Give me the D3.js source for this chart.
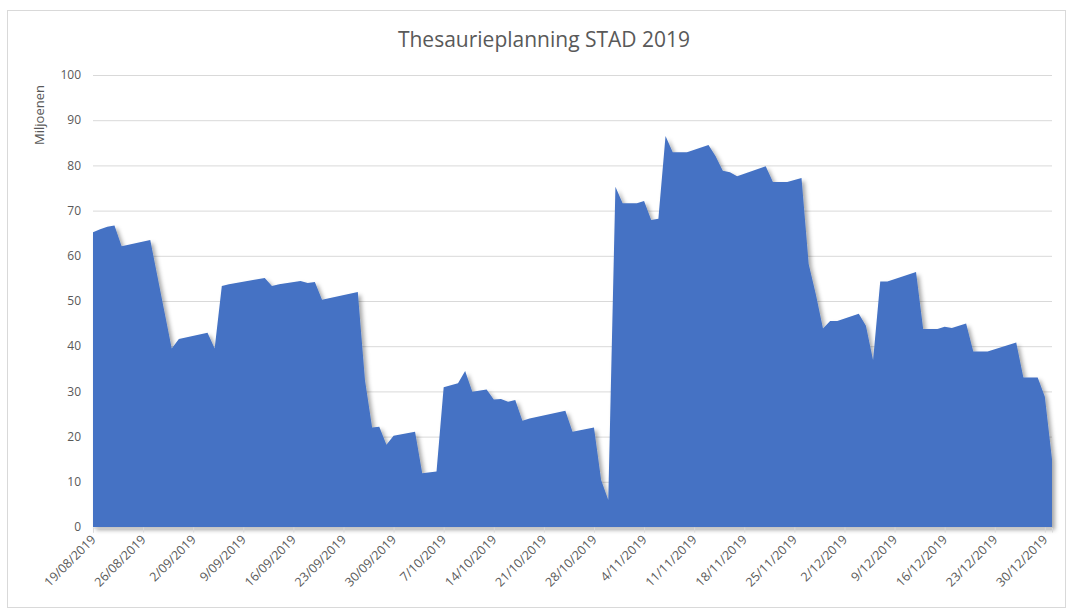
<!DOCTYPE html>
<html>
<head>
<meta charset="utf-8">
<script src="https://cdn.jsdelivr.net/npm/d3@7"></script>
<style>
  body { margin: 0; background: #fff; }
  text { font-family: "Open Sans", "Noto Sans", sans-serif; fill: #595959; }
</style>
</head>
<body>
<div id="chart"></div>
<script>
// data (vertex points of the area, in Miljoenen)
var dates = [
  "19/08/2019","20/08/2019","21/08/2019","22/08/2019","23/08/2019","27/08/2019","28/08/2019","30/08/2019",
  "31/08/2019","4/09/2019","5/09/2019","6/09/2019","7/09/2019","12/09/2019","13/09/2019","14/09/2019",
  "17/09/2019","18/09/2019","19/09/2019","20/09/2019","25/09/2019","26/09/2019","27/09/2019","28/09/2019",
  "29/09/2019","30/09/2019","3/10/2019","4/10/2019","6/10/2019","7/10/2019","9/10/2019","10/10/2019",
  "11/10/2019","13/10/2019","14/10/2019","15/10/2019","16/10/2019","17/10/2019","18/10/2019","19/10/2019",
  "24/10/2019","25/10/2019","28/10/2019","29/10/2019","30/10/2019","31/10/2019","1/11/2019","3/11/2019",
  "4/11/2019","5/11/2019","6/11/2019","7/11/2019","8/11/2019","10/11/2019","13/11/2019","14/11/2019",
  "15/11/2019","16/11/2019","17/11/2019","21/11/2019","22/11/2019","24/11/2019","26/11/2019","27/11/2019",
  "28/11/2019","29/11/2019","30/11/2019","1/12/2019","4/12/2019","5/12/2019","6/12/2019","7/12/2019",
  "8/12/2019","12/12/2019","13/12/2019","15/12/2019","16/12/2019","17/12/2019","19/12/2019","20/12/2019",
  "22/12/2019","26/12/2019","27/12/2019","29/12/2019","30/12/2019","31/12/2019"
];
var values = [
  65.2, 65.9, 66.4, 66.7, 62.1, 63.5, 55.5, 39.5,
  41.6, 43.0, 39.5, 53.3, 53.7, 55.1, 53.3, 53.7,
  54.4, 54.0, 54.2, 50.3, 52.0, 32.5, 22.0, 22.2,
  18.2, 20.2, 21.1, 11.9, 12.3, 30.9, 31.8, 34.5,
  29.9, 30.4, 28.2, 28.3, 27.7, 28.1, 23.5, 24.0,
  25.7, 21.1, 22.0, 10.4, 6.0, 75.3, 71.6, 71.6,
  72.1, 67.9, 68.2, 86.5, 82.9, 82.9, 84.5, 82.0,
  78.8, 78.5, 77.6, 79.8, 76.3, 76.3, 77.2, 58.2,
  51.5, 43.9, 45.6, 45.6, 47.2, 44.5, 36.9, 54.3,
  54.3, 56.4, 43.8, 43.8, 44.3, 44.0, 45.0, 38.8,
  38.8, 40.8, 33.1, 33.1, 28.8, 15.0
];
var yTicks = [0, 10, 20, 30, 40, 50, 60, 70, 80, 90, 100];
var xTickLabels = [
  "19/08/2019","26/08/2019","2/09/2019","9/09/2019","16/09/2019","23/09/2019","30/09/2019",
  "7/10/2019","14/10/2019","21/10/2019","28/10/2019","4/11/2019","11/11/2019","18/11/2019",
  "25/11/2019","2/12/2019","9/12/2019","16/12/2019","23/12/2019","30/12/2019"
];

function drawAreachart(selector) {
    var width = 1073, height = 610;
    var parse = d3.timeParse("%d/%m/%Y");

    var data = dates.map(function(d, i) { return { date: parse(d), value: values[i] }; });

    var svg = d3.select(selector)
        .append("svg")
        .attr("width", width)
        .attr("height", height);

    var defs = svg.append("defs");
    defs.append("filter")
        .attr("id", "shadow")
        .attr("x", "-5%").attr("y", "-5%")
        .attr("width", "110%").attr("height", "110%")
      .append("feDropShadow")
        .attr("dx", 3)
        .attr("dy", 3)
        .attr("stdDeviation", 2)
        .attr("flood-color", "#000")
        .attr("flood-opacity", 0.35);

    // chart frame
    svg.append("rect")
        .attr("x", 7.5).attr("y", 10.5)
        .attr("width", 1058).attr("height", 597)
        .attr("fill", "#fff")
        .attr("stroke", "#d9d9d9");

    var x = d3.scaleTime()
        .domain([parse("19/08/2019"), parse("31/12/2019")])
        .range([93, 1052]);

    var y = d3.scaleLinear()
        .domain([0, 100])
        .range([527, 75]);

    // gridlines
    svg.append("g")
        .selectAll("line")
        .data(yTicks.filter(function(d) { return d > 0; }))
      .enter().append("line")
        .attr("x1", 93).attr("x2", 1052)
        .attr("y1", function(d) { return y(d) + 0.5; })
        .attr("y2", function(d) { return y(d) + 0.5; })
        .attr("stroke", "#d9d9d9")
        .attr("stroke-width", 1);

    var area = d3.area()
        .x(function(d) { return x(d.date); })
        .y0(y(0))
        .y1(function(d) { return y(d.value); });

    svg.append("path")
        .datum(data)
        .attr("fill", "#4472c4")
        .attr("filter", "url(#shadow)")
        .attr("d", area);

    // y labels
    svg.append("g")
        .selectAll("text")
        .data(yTicks)
      .enter().append("text")
        .attr("x", 81)
        .attr("y", function(d) { return y(d); })
        .attr("dy", "0.35em")
        .attr("text-anchor", "end")
        .attr("font-size", 12)
        .text(function(d) { return d; });

    // x axis
    var tickDates = xTickLabels.map(parse);
    var xAxis = svg.append("g")
        .attr("transform", "translate(0," + (y(0) + 0.5) + ")")
        .call(d3.axisBottom(x)
            .tickValues(tickDates)
            .tickSize(5)
            .tickFormat(function(d, i) { return xTickLabels[i]; }));

    xAxis.select(".domain").attr("stroke", "#d9d9d9");
    xAxis.selectAll(".tick line").attr("stroke", "#d9d9d9");
    xAxis.selectAll(".tick text")
        .attr("font-family", null)
        .attr("fill", "#595959")
        .attr("font-size", 12.5)
        .attr("y", 0)
        .attr("dy", 0)
        .attr("transform", "translate(3,13) rotate(-45)")
        .style("text-anchor", "end");

    svg.append("text")
        .attr("transform", "translate(44,115) rotate(-90)")
        .attr("text-anchor", "middle")
        .attr("font-size", 13)
        .text("Miljoenen");

    svg.append("text")
        .attr("x", 544)
        .attr("y", 47)
        .attr("text-anchor", "middle")
        .attr("font-size", 21)
        .text("Thesaurieplanning STAD 2019");
}

drawAreachart("#chart");
</script>
</body>
</html>
